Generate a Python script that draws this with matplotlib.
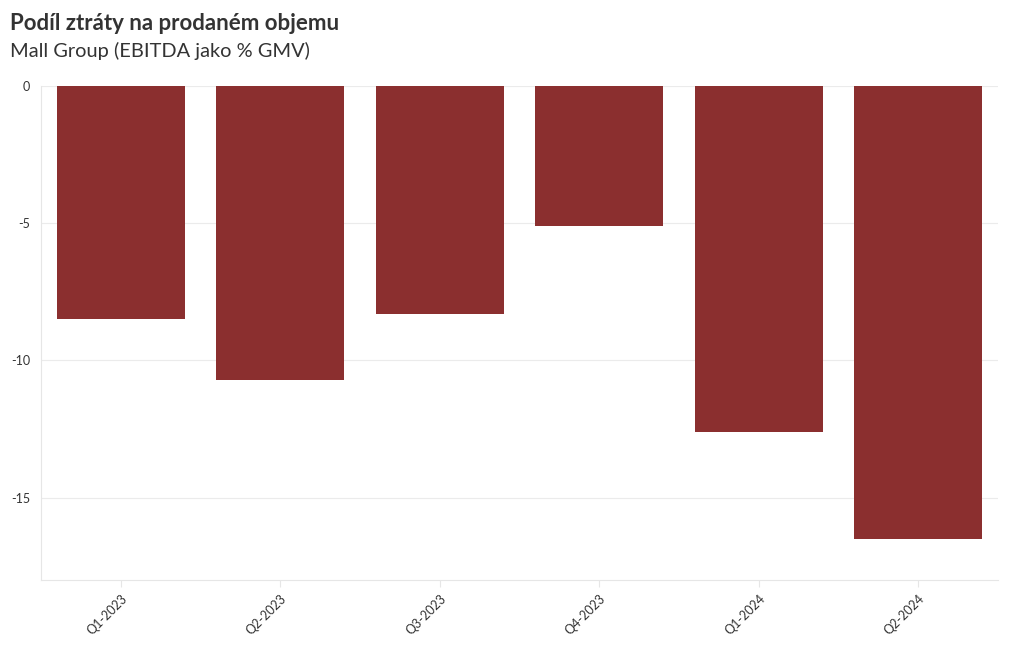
import matplotlib
matplotlib.use('Agg')
import matplotlib.pyplot as plt

plt.rcParams['font.family'] = ['Lato', 'DejaVu Sans']

quarters = ['Q1-2023', 'Q2-2023', 'Q3-2023', 'Q4-2023', 'Q1-2024', 'Q2-2024']
ebitda_pct = [-8.5, -10.7, -8.3, -5.1, -12.6, -16.5]

fig = plt.figure(figsize=(10.2, 6.5), dpi=100)
ax = fig.add_axes([41/1020, 1-580/650, (998-41)/1020, (580-86)/650])

ax.bar(range(len(quarters)), ebitda_pct, width=0.8, color='#8b2f2f', zorder=2)

ax.set_xlim(-0.5, len(quarters)-0.5)
ax.set_ylim(-18, 0)
ax.set_yticks([0, -5, -10, -15])
ax.set_yticklabels(['0', '-5', '-10', '-15'])
ax.set_xticks(range(len(quarters)))
ax.set_xticklabels(quarters, rotation=45, ha='right', rotation_mode='anchor')

ax.grid(axis='y', color='#ebebeb', linewidth=0.8, zorder=0)
for s in ['top', 'right']:
    ax.spines[s].set_visible(False)
for s in ['left', 'bottom']:
    ax.spines[s].set_color('#e6e6e6')
    ax.spines[s].set_linewidth(0.8)
ax.tick_params(axis='y', length=0, labelsize=9, labelcolor='#333333', pad=8)
ax.tick_params(axis='x', length=5, color='#e6e6e6', labelsize=9, labelcolor='#333333', pad=4)

fig.text(10/1020, 1-24/650, 'Podíl ztráty na prodaném objemu', fontsize=16, fontweight='bold',
         color='#333333', va='center', ha='left')
fig.text(10/1020, 1-51/650, 'Mall Group (EBITDA jako % GMV)', fontsize=14.4,
         color='#333333', va='center', ha='left')

fig.savefig('out.png', dpi=100)
